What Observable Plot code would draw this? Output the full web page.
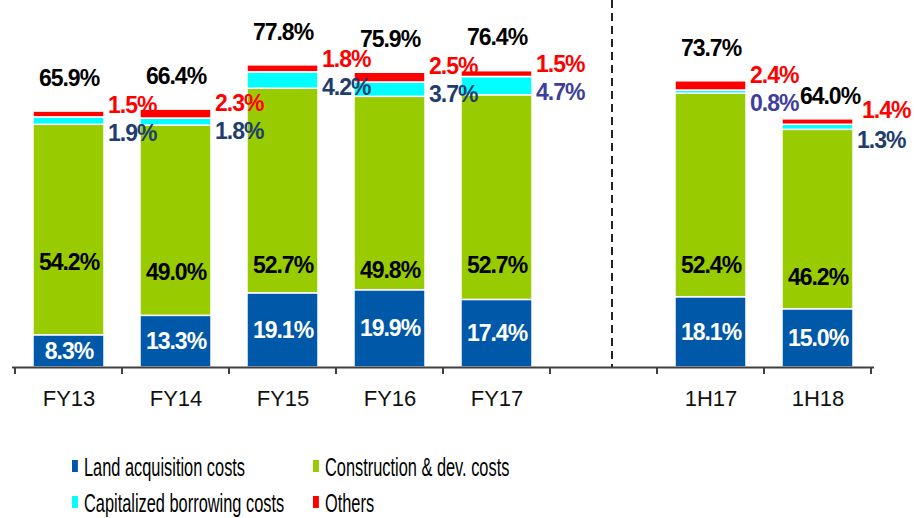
<!DOCTYPE html>
<html>
<head>
<meta charset="utf-8">
<script src="https://cdn.jsdelivr.net/npm/d3@7"></script>
<script src="https://cdn.jsdelivr.net/npm/@observablehq/plot@0.6"></script>
<style>
  html, body { margin: 0; padding: 0; background: #fff; }
  #wrap { width: 914px; height: 518px; overflow: hidden; font-family: "Liberation Sans", Arial, sans-serif; }
  svg { display: block; }
  .value-label text { letter-spacing: -1px; }
</style>
</head>
<body>
<div id="wrap"></div>
<script>
// ---- data ----
const categories = ["FY13", "FY14", "FY15", "FY16", "FY17", "1H17", "1H18"];
const gapSlot = "";               // empty slot between annual and half-year bars
const xSlots = ["FY13", "FY14", "FY15", "FY16", "FY17", gapSlot, "1H17", "1H18"];
const seriesNames = ["Land acquisition costs", "Construction & dev. costs", "Capitalized borrowing costs", "Others"];
const land         = [8.3, 13.3, 19.1, 19.9, 17.4, 18.1, 15.0];
const construction = [54.2, 49.0, 52.7, 49.8, 52.7, 52.4, 46.2];
const capitalized  = [1.9, 1.8, 4.2, 3.7, 4.7, 0.8, 1.3];
const others       = [1.5, 2.3, 1.8, 2.5, 1.5, 2.4, 1.4];
const totals       = [65.9, 66.4, 77.8, 75.9, 76.4, 73.7, 64.0];

// ---- styles / layout ----
const seriesColors = ["#0058A8", "#99CC00", "#00FFFF", "#FF0000"];
const capAltColorCats = new Set(["FY17", "1H17"]);
const shiftedTotalCats = new Set(["1H18"]);   // total label sits right of the bar top
const font = "'Liberation Sans', Arial, sans-serif";
const axisColor = "#404040";

const seriesValues = [land, construction, capitalized, others];
const rows = categories.flatMap((c, i) => seriesNames.map((s, j) => ({cat: c, series: s, value: seriesValues[j][i]})));
const pct = v => v.toFixed(1) + "%";
const idx = c => categories.indexOf(c);

function slotTicks(index, scales, values, dims) {
  const x = scales.x, y = scales.y;
  const dom = x.domain();
  const bw = x.bandwidth();
  const step = x.step ? x.step() : (dims.width - dims.marginLeft - dims.marginRight) / dom.length;
  const off = (step - bw) / 2;
  const xs = dom.map(d => x(d) - off).concat([x(dom[dom.length - 1]) + bw + off]);
  const y0 = y(0);
  const g = d3.create("svg:g").attr("stroke", axisColor).attr("stroke-width", 2);
  for (const xv of xs) g.append("line").attr("x1", xv).attr("x2", xv).attr("y1", y0).attr("y2", y0 + 7);
  return g.node();
}

const bold = {fontFamily: font, fontWeight: "bold", fontSize: 23, className: "value-label"};
const midRows = rows.filter(d => d.series === seriesNames[0] || d.series === seriesNames[1]);

const chart = Plot.plot({
  width: 914,
  height: 430,
  marginTop: 0,
  marginBottom: 63,
  marginLeft: 12,
  marginRight: 40,
  style: {fontFamily: font, background: "white", overflow: "visible"},
  x: {domain: xSlots, paddingInner: 0.34, paddingOuter: 0.17, axis: null},
  y: {domain: [0, 94.5], axis: null},
  color: {domain: seriesNames, range: seriesColors},
  marks: [
    Plot.ruleX([gapSlot], {x: d => d, dx: 8, stroke: "#222", strokeWidth: 2, strokeDasharray: "8,5"}),
    Plot.barY(rows, Plot.stackY({x: "cat", y: "value", fill: "series", order: seriesNames, stroke: "white", strokeWidth: 1.5})),
    Plot.text(midRows, Plot.stackY({x: "cat", y: "value", z: "series", order: seriesNames, text: d => pct(d.value),
      filter: d => d.series === seriesNames[0], fill: "white", ...bold})),
    Plot.text(midRows, Plot.stackY({x: "cat", y: "value", z: "series", order: seriesNames, text: d => pct(d.value),
      filter: d => d.series === seriesNames[1], fill: "black", ...bold})),
    Plot.text(categories, {x: d => d, y: d => totals[idx(d)], text: d => pct(totals[idx(d)]),
      filter: d => !shiftedTotalCats.has(d), dy: -33, fill: "black", ...bold}),
    Plot.text(categories, {x: d => d, y: d => totals[idx(d)], text: d => pct(totals[idx(d)]),
      filter: d => shiftedTotalCats.has(d), dx: 12, dy: -22, fill: "black", ...bold}),
    Plot.text(categories, {x: d => d, y: d => totals[idx(d)], text: d => pct(others[idx(d)]),
      filter: d => !shiftedTotalCats.has(d), dx: 39, dy: -6, textAnchor: "start", fill: "#FF0000", ...bold}),
    Plot.text(categories, {x: d => d, y: d => totals[idx(d)], text: d => pct(others[idx(d)]),
      filter: d => shiftedTotalCats.has(d), dx: 44, dy: -8, textAnchor: "start", fill: "#FF0000", ...bold}),
    Plot.text(categories, {x: d => d, y: d => totals[idx(d)], text: d => pct(capitalized[idx(d)]), dx: 39, dy: 22, textAnchor: "start",
      filter: d => !capAltColorCats.has(d), fill: "#1F3D6E", ...bold}),
    Plot.text(categories, {x: d => d, y: d => totals[idx(d)], text: d => pct(capitalized[idx(d)]), dx: 39, dy: 22, textAnchor: "start",
      filter: d => capAltColorCats.has(d), fill: "#3E3E9C", ...bold}),
    Plot.ruleY([0], {stroke: axisColor, strokeWidth: 2}),
    slotTicks,
    Plot.axisX({tickSize: 0, tickPadding: 23, fontSize: 22, fill: "#111", label: null, tickFormat: d => d})
  ]
});

const wrap = document.getElementById("wrap");
wrap.appendChild(chart);

// ---- legend (below the plot) ----
const legend = d3.create("svg").attr("width", 914).attr("height", 88).style("display", "block");
const legendPos = [[72, 46], [313, 46], [72, 82], [313, 82]];
seriesNames.forEach((name, i) => {
  const [lx, base] = legendPos[i];
  const g = legend.append("g").attr("transform", `translate(${lx},0) scale(0.655,1)`);
  g.append("rect").attr("x", 0).attr("y", base - 16).attr("width", 9).attr("height", 12).attr("fill", seriesColors[i]);
  g.append("text").attr("x", 18.3).attr("y", base).attr("font-family", font).attr("font-size", 25).attr("fill", "#000").text(name);
});
wrap.appendChild(legend.node());
</script>
</body>
</html>
